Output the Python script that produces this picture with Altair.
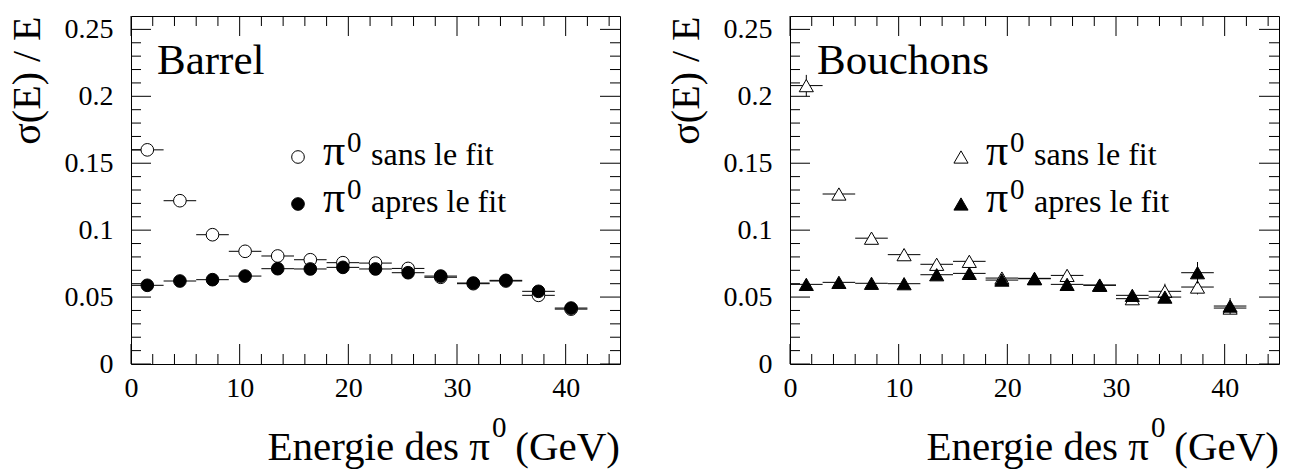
import altair as alt
import pandas as pd

# ---------------- data ----------------
energy = [1.5, 4.5, 7.5, 10.5, 13.5, 16.5, 19.5, 22.5, 25.5, 28.5, 31.5, 34.5, 37.5, 40.5]
bin_half = [1.5] * 14

barrel_sans = [0.160, 0.122, 0.0966, 0.0842, 0.0807, 0.0779, 0.0757, 0.0754, 0.0714, 0.0648, 0.0600, 0.0620, 0.0513, 0.0410]
barrel_sans_err = [0.003, 0.002, 0.002, 0.002, 0.002, 0.002, 0.002, 0.002, 0.002, 0.002, 0.002, 0.002, 0.002, 0.002]
barrel_apres = [0.0588, 0.0620, 0.0630, 0.0657, 0.0712, 0.0710, 0.0722, 0.0710, 0.0682, 0.0657, 0.0605, 0.0625, 0.0543, 0.0418]
barrel_apres_err = [0.002, 0.002, 0.002, 0.002, 0.002, 0.002, 0.002, 0.002, 0.002, 0.002, 0.002, 0.002, 0.002, 0.002]

bouchons_sans = [0.208, 0.127, 0.094, 0.0817, 0.0745, 0.0767, 0.0642, 0.0640, 0.0662, 0.0590, 0.0488, 0.0543, 0.0575, 0.0418]
bouchons_sans_err = [0.008, 0.004, 0.003, 0.003, 0.003, 0.003, 0.003, 0.003, 0.003, 0.003, 0.003, 0.0057, 0.0055, 0.004]
bouchons_apres = [0.0595, 0.0610, 0.0603, 0.0600, 0.0667, 0.0677, 0.0627, 0.0637, 0.0595, 0.0588, 0.0513, 0.0500, 0.0682, 0.0433]
bouchons_apres_err = [0.003, 0.003, 0.003, 0.003, 0.003, 0.003, 0.003, 0.003, 0.003, 0.003, 0.003, 0.003, 0.008, 0.006]

x_major = [0, 10, 20, 30, 40]
x_minor = [2, 4, 6, 8, 12, 14, 16, 18, 22, 24, 26, 28, 32, 34, 36, 38, 42, 44]
y_major = [0, 0.05, 0.1, 0.15, 0.2, 0.25]
y_minor = [0.01, 0.02, 0.03, 0.04, 0.06, 0.07, 0.08, 0.09, 0.11, 0.12, 0.13, 0.14,
           0.16, 0.17, 0.18, 0.19, 0.21, 0.22, 0.23, 0.24]

FONT = "Liberation Serif"
W, H = 489, 348
xs = alt.Scale(domain=[0, 45], nice=False, zero=False)
ys = alt.Scale(domain=[0, 0.26], nice=False, zero=False)

X_AXIS = alt.Axis(values=x_major, format="d", ticks=False, domain=False, grid=False,
                  labelFont=FONT, labelFontSize=28, labelColor="black", labelPadding=10,
                  labelFlush=False, labelOverlap=False, title=None)
Y_AXIS = alt.Axis(values=y_major, format=".2~f", ticks=False, domain=False, grid=False,
                  labelFont=FONT, labelFontSize=28, labelColor="black", labelPadding=18,
                  labelFlush=False, labelOverlap=False,
                  title="σ(E) / E", titleFont=FONT, titleFontSize=40, titleFontWeight="normal",
                  titleColor="black", titleAnchor="end", titlePadding=17)


def X(f):
    return alt.X(f, scale=xs, axis=X_AXIS)


def Y(f):
    return alt.Y(f, scale=ys, axis=Y_AXIS)


def series_df(vals, errs):
    return pd.DataFrame({
        "e": energy,
        "lo": [e - h for e, h in zip(energy, bin_half)],
        "hi": [e + h for e, h in zip(energy, bin_half)],
        "v": vals,
        "vlo": [v - d for v, d in zip(vals, errs)],
        "vhi": [v + d for v, d in zip(vals, errs)],
    })


def text(s, x, y, size, align="left"):
    return alt.Chart(pd.DataFrame({"t": [s]})).mark_text(
        align=align, baseline="alphabetic", font=FONT, fontSize=size, color="black"
    ).encode(x=alt.value(x), y=alt.value(y), text="t:N")


def make_panel(title, title_x, sans, sans_err, apres, apres_err, shape, size, leg_x):
    layers = []
    # ticks (inside, on all four sides)
    for vals, L in [(x_major, 20), (x_minor, 10)]:
        d = pd.DataFrame({"t": vals})
        layers.append(alt.Chart(d).mark_rule(color="black", strokeWidth=1).encode(
            x=X("t:Q"), y=alt.value(H), y2=alt.value(H - L)))
        layers.append(alt.Chart(d).mark_rule(color="black", strokeWidth=1).encode(
            x=X("t:Q"), y=alt.value(0), y2=alt.value(L)))
    for vals, L in [(y_major, 20), (y_minor, 10)]:
        d = pd.DataFrame({"t": vals})
        layers.append(alt.Chart(d).mark_rule(color="black", strokeWidth=1).encode(
            y=Y("t:Q"), x=alt.value(0), x2=alt.value(L)))
        layers.append(alt.Chart(d).mark_rule(color="black", strokeWidth=1).encode(
            y=Y("t:Q"), x=alt.value(W), x2=alt.value(W - L)))
    # series
    for vals, errs, fill in [(sans, sans_err, "white"), (apres, apres_err, "black")]:
        d = series_df(vals, errs)
        layers.append(alt.Chart(d).mark_rule(color="black", strokeWidth=1).encode(
            x=X("lo:Q"), x2="hi:Q", y=Y("v:Q")))
        layers.append(alt.Chart(d).mark_rule(color="black", strokeWidth=1).encode(
            x=X("e:Q"), y=Y("vlo:Q"), y2="vhi:Q"))
        layers.append(alt.Chart(d).mark_point(
            shape=shape, filled=True, fill=fill, stroke="black", strokeWidth=1,
            size=size, opacity=1).encode(x=X("e:Q"), y=Y("v:Q")))
    # panel title
    layers.append(text(title, title_x, 58, 43))
    # legend
    for row_y, fill, label in [(141, "white", "sans le fit"), (188, "black", "apres le fit")]:
        layers.append(alt.Chart(pd.DataFrame({"k": [label]})).mark_point(
            shape=shape, filled=True, fill=fill, stroke="black", strokeWidth=1,
            size=size, opacity=1).encode(x=alt.value(leg_x), y=alt.value(row_y)))
        layers.append(text("π", leg_x + 25, row_y + 8, 44))
        layers.append(text("0", leg_x + 49, row_y - 5, 29))
        layers.append(text(label, leg_x + 73, row_y + 8, 32))
    # x title
    layers.append(text("Energie des π", 359, 444, 41, align="right"))
    layers.append(text("0", 361, 421, 29))
    layers.append(text("(GeV)", 489, 444, 41, align="right"))
    return alt.layer(*layers).properties(width=W, height=H)


left = make_panel("Barrel", 26, barrel_sans, barrel_sans_err, barrel_apres, barrel_apres_err,
                  "circle", 160, 167)
right = make_panel("Bouchons", 27, bouchons_sans, bouchons_sans_err, bouchons_apres, bouchons_apres_err,
                   "triangle-up", 200, 171)

chart = alt.hconcat(left, right, spacing=44).properties(
    padding={"left": 6, "top": 14, "right": 0, "bottom": 0},
    background="white",
).configure_view(stroke="black", strokeWidth=1)

chart.save("out.html", embed_options={"renderer": "svg", "actions": False})
